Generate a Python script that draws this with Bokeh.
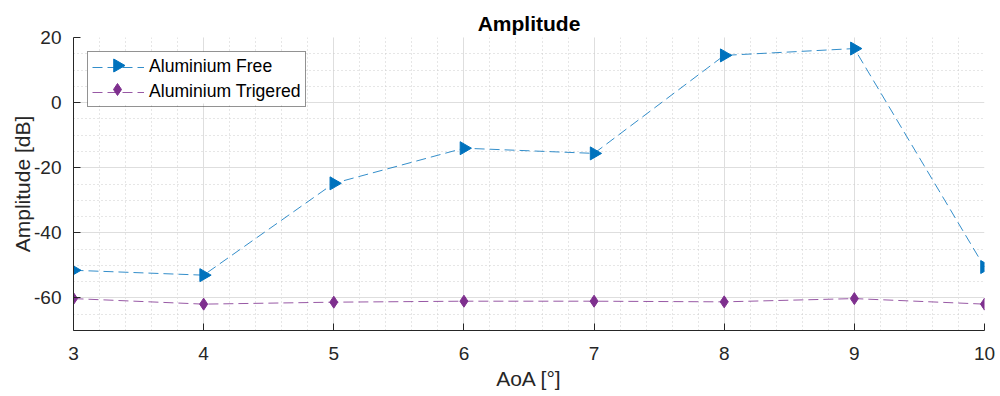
import math
from bokeh.plotting import figure
from bokeh.models import Range1d, SingleIntervalTicker, Legend, LegendItem, PrintfTickFormatter
from bokeh.embed import file_html
from bokeh.resources import INLINE

aoa = [3, 4, 5, 6, 7, 8, 9, 10]
free_db = [-51.5, -53.0, -24.8, -14.0, -15.6, 14.5, 16.6, -50.5]
trig_db = [-60.2, -61.9, -61.3, -61.0, -61.0, -61.2, -60.2, -61.9]
series_names = ["Aluminium Free", "Aluminium Trigered"]

BLUE = "#0072BD"
PURPLE = "#7E2F8E"
FONT = "Liberation Sans"
TXT = "#262626"

W, H = 1000, 396
ML, MR, MT, MB = 73, 16, 37, 66
FW, FH = W - ML - MR, H - MT - MB
X0, X1, Y0, Y1 = 3, 10, -70, 20

p = figure(width=W, height=H, output_backend="svg", toolbar_location=None,
           x_range=Range1d(X0, X1), y_range=Range1d(Y0, Y1),
           min_border_left=ML, min_border_right=MR, min_border_top=MT, min_border_bottom=MB)

p.title.text = "Amplitude"
p.title.align = "center"
p.title.text_font = FONT
p.title.text_font_size = "21px"
p.title.text_font_style = "bold"
p.title.text_color = "black"
p.title.standoff = 6

p.outline_line_color = None
p.background_fill_color = "white"

p.xaxis.ticker = SingleIntervalTicker(interval=1, num_minor_ticks=5)
p.yaxis.ticker = SingleIntervalTicker(interval=20, num_minor_ticks=4)
p.xaxis.formatter = PrintfTickFormatter(format="%d")
p.yaxis.formatter = PrintfTickFormatter(format="%d")

for ax in (p.xaxis[0], p.yaxis[0]):
    ax.axis_line_color = "#262626"
    ax.axis_line_width = 1
    ax.major_tick_line_color = "#262626"
    ax.major_tick_in = 7
    ax.major_tick_out = 0
    ax.minor_tick_line_color = None
    ax.major_label_text_font = FONT
    ax.major_label_text_font_size = "19px"
    ax.major_label_text_color = TXT
    ax.axis_label_text_font = FONT
    ax.axis_label_text_font_size = "21px"
    ax.axis_label_text_font_style = "normal"
    ax.axis_label_text_color = TXT

p.xaxis.axis_label = "AoA [°]"
p.yaxis.axis_label = "Amplitude [dB]"
p.xaxis.major_label_standoff = 12
p.xaxis.axis_label_standoff = 4
p.yaxis.major_label_standoff = 8
p.yaxis.axis_label_standoff = -3

for g in (p.xgrid[0], p.ygrid[0]):
    g.grid_line_color = "#dedede"
    g.grid_line_width = 1
    g.minor_grid_line_color = "#cccccc"
    g.minor_grid_line_dash = "1 3"
    g.minor_grid_line_width = 1


# pixel offsets inside the frame converted to the plot's units (legend layout only)
def px_x(px):
    return X0 + px * (X1 - X0) / FW


def px_y(py):
    return Y1 - py * (Y1 - Y0) / FH


# legend layout
LM, PAD, GW, GH, SP, STAND, TEXT_W = 14, 4, 52, 20, 4, 5, 153
LW = 2 * PAD + GW + STAND + TEXT_W
LH = 2 * PAD + 2 * GH + SP

# white legend background (under the legend keys)
p.quad(left=[px_x(LM)], right=[px_x(LM + LW)], top=[px_y(LM)], bottom=[px_y(LM + LH)],
       fill_color="white", line_color=None)

MS_TRI, MS_DIA = 13, 12
l1 = p.line(aoa, free_db, line_color=BLUE, line_dash="10 5", line_width=1, line_alpha=0.8)
p.scatter(aoa, free_db, marker="triangle", size=MS_TRI, angle=-math.pi / 2,
          fill_color=BLUE, line_color=BLUE)
l2 = p.line(aoa, trig_db, line_color=PURPLE, line_dash="10 5", line_width=1, line_alpha=0.8)
p.scatter(aoa, trig_db, marker="diamond", size=MS_DIA,
          fill_color=PURPLE, line_color=PURPLE)

# legend keys (markers)
kx = LM + PAD + GW / 2
ky1 = LM + PAD + GH / 2
ky2 = ky1 + GH + SP
p.scatter([px_x(kx)], [px_y(ky1)], marker="triangle", size=MS_TRI, angle=-math.pi / 2,
          fill_color=BLUE, line_color=BLUE)
p.scatter([px_x(kx)], [px_y(ky2)], marker="diamond", size=MS_DIA,
          fill_color=PURPLE, line_color=PURPLE)

# legend box: border, dashed keys and labels (transparent background)
legend = Legend(items=[LegendItem(label=series_names[0], renderers=[l1]),
                       LegendItem(label=series_names[1], renderers=[l2])],
                location="top_left")
legend.label_text_font = FONT
legend.label_text_font_size = "17.6px"
legend.label_text_color = "black"
legend.border_line_color = "#262626"
legend.border_line_width = 1
legend.background_fill_alpha = 0
legend.margin = LM
legend.padding = PAD
legend.spacing = SP
legend.glyph_width = GW
legend.glyph_height = GH
legend.label_height = GH
legend.label_standoff = STAND
p.add_layout(legend)

open("out.html", "w").write(file_html(p, INLINE))
